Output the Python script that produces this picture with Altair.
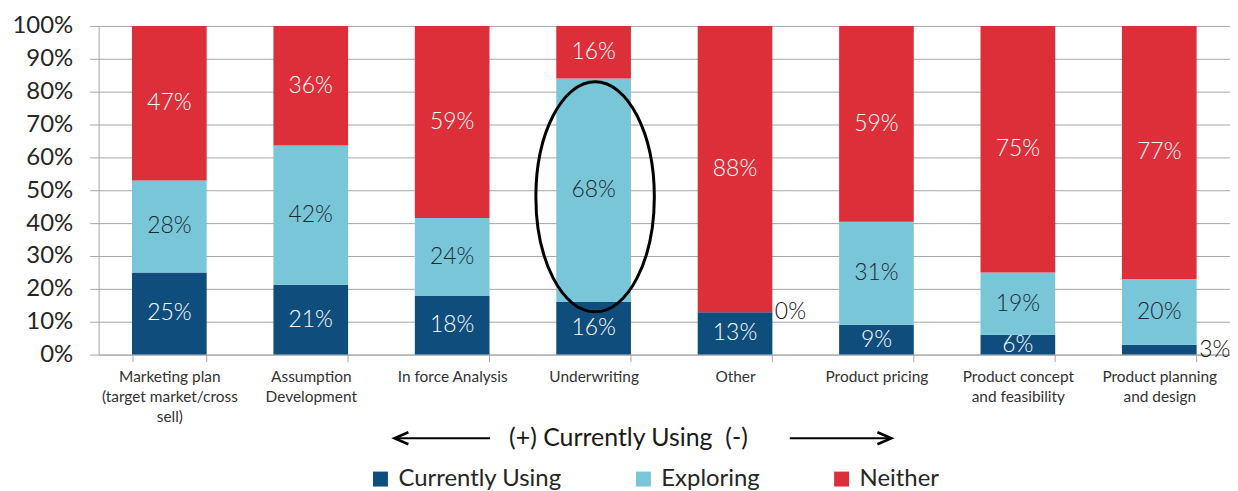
import altair as alt
import pandas as pd

# ---- data ----
categories = [
    "Marketing plan\n(target market/cross\nsell)",
    "Assumption\nDevelopment",
    "In force Analysis",
    "Underwriting",
    "Other",
    "Product pricing",
    "Product concept\nand feasibility",
    "Product planning\nand design",
]
series = ["Currently Using", "Exploring", "Neither"]
currently_using = [25, 21, 18, 16, 13, 9, 6, 3]
exploring = [28, 42, 24, 68, 0, 31, 19, 20]
neither = [47, 36, 59, 16, 88, 59, 75, 77]
colors = ["#0f4d7d", "#7ac6d9", "#dd2f3a"]
y_ticks = [0, 0.1, 0.2, 0.3, 0.4, 0.5, 0.6, 0.7, 0.8, 0.9, 1.0]
highlight_category = "Underwriting"
direction_text = "(+) Currently Using\u00a0 (-)"

# ---- build table (100% stacked) ----
rows = []
for i, cat in enumerate(categories):
    vals = [currently_using[i], exploring[i], neither[i]]
    total = sum(vals)
    cum = 0
    for s, v in zip(series, vals):
        y0 = cum / total
        y1 = (cum + v) / total
        rows.append(dict(category=cat, series=s, value=v, y0=y0, y1=y1,
                         mid=(y0 + y1) / 2, label=f"{v}%", small=v < 5))
        cum += v
df = pd.DataFrame(rows)

FONT = "Lato"
GRAY = "#a6a6a6"

x_axis = alt.Axis(title=None, labelAngle=0, labelExpr="split(datum.label, '\\n')",
                  labelFontSize=15.5, labelLineHeight=20, labelColor="#333333",
                  labelFont=FONT, tickBand="extent", tickSize=7, tickColor=GRAY,
                  domainColor=GRAY, labelPadding=8, labelLimit=300, grid=False)
x_scale = alt.Scale(paddingInner=0.472, paddingOuter=0.236)
y_axis = alt.Axis(title=None, values=y_ticks, format="%", grid=True,
                  gridColor=GRAY, domainColor=GRAY, tickColor=GRAY,
                  tickSize=9, labelPadding=17, labelFontSize=24,
                  labelColor="#262626", labelFont=FONT, labelOverlap=False)
y_scale = alt.Scale(domain=[0, 1], nice=False)


def X():
    return alt.X("category:N", sort=categories, scale=x_scale, axis=x_axis)


def Y(field):
    return alt.Y(field, scale=y_scale, axis=y_axis)


bars = alt.Chart(df).mark_bar().encode(
    x=X(),
    y=Y("y0:Q"),
    y2="y1:Q",
    color=alt.Color("series:N", scale=alt.Scale(domain=series, range=colors),
                    legend=alt.Legend(title=None)),
)

inside = alt.Chart(df).transform_filter("!datum.small").mark_text(
    font=FONT, fontSize=23, fontWeight=300, baseline="middle", align="center"
).encode(
    x=X(),
    y=Y("mid:Q"),
    text="label:N",
    color=alt.condition(alt.datum.series == "Exploring", alt.value("#1c2833"), alt.value("white")),
)

outside = alt.Chart(df).transform_filter("datum.small").mark_text(
    font=FONT, fontSize=23, fontWeight=300, baseline="middle", align="left", dx=40,
    color="#111111"
).encode(
    x=X(),
    y=Y("mid:Q"),
    text="label:N",
)

ellipse_path = "M -0.515 0 A 0.515 1 0 1 1 0.515 0 A 0.515 1 0 1 1 -0.515 0 Z"
ellipse = alt.Chart(pd.DataFrame({"category": [highlight_category], "yc": [0.48]})).mark_point(
    shape=ellipse_path, size=53361, filled=False, color="black", strokeWidth=3,
    opacity=1, xOffset=1.5
).encode(
    x=X(),
    y=Y("yc:Q"),
)

one = pd.DataFrame({"a": [0]})
left_line = alt.Chart(one).mark_rule(color="black", strokeWidth=2).encode(
    x=alt.value(298), x2=alt.value(393), y=alt.value(414))
right_line = alt.Chart(one).mark_rule(color="black", strokeWidth=2).encode(
    x=alt.value(694), x2=alt.value(795), y=alt.value(414))
left_head = alt.Chart(one).mark_point(
    shape="M 1 -0.86 L -1 0 L 1 0.86", size=196, filled=False, color="black",
    strokeWidth=2.5, opacity=1).encode(x=alt.value(304), y=alt.value(414))
right_head = alt.Chart(one).mark_point(
    shape="M -1 -0.86 L 1 0 L -1 0.86", size=196, filled=False, color="black",
    strokeWidth=2.5, opacity=1).encode(x=alt.value(789), y=alt.value(414))
mid_text = alt.Chart(pd.DataFrame({"t": [direction_text]})).mark_text(
    font=FONT, fontSize=25, color="#1a1a1a", align="center", baseline="middle"
).encode(x=alt.value(532), y=alt.value(414), text="t:N")

chart = alt.layer(
    bars, inside, outside, ellipse, left_line, right_line, left_head, right_head, mid_text
).properties(
    width=1136, height=330,
    padding={"left": 91, "top": 17, "right": 0, "bottom": 140},
    autosize=alt.AutoSizeParams(type="none"),
).configure_view(strokeWidth=0).configure_legend(
    orient="none", legendX=271, legendY=443, direction="horizontal",
    symbolType="square", symbolSize=225, symbolStrokeWidth=0,
    labelFontSize=24, labelFont=FONT, labelColor="#262626", labelLimit=400,
    columnPadding=70, labelOffset=6, padding=0,
)

chart.save("out.html", embed_options={"renderer": "svg", "actions": False})
